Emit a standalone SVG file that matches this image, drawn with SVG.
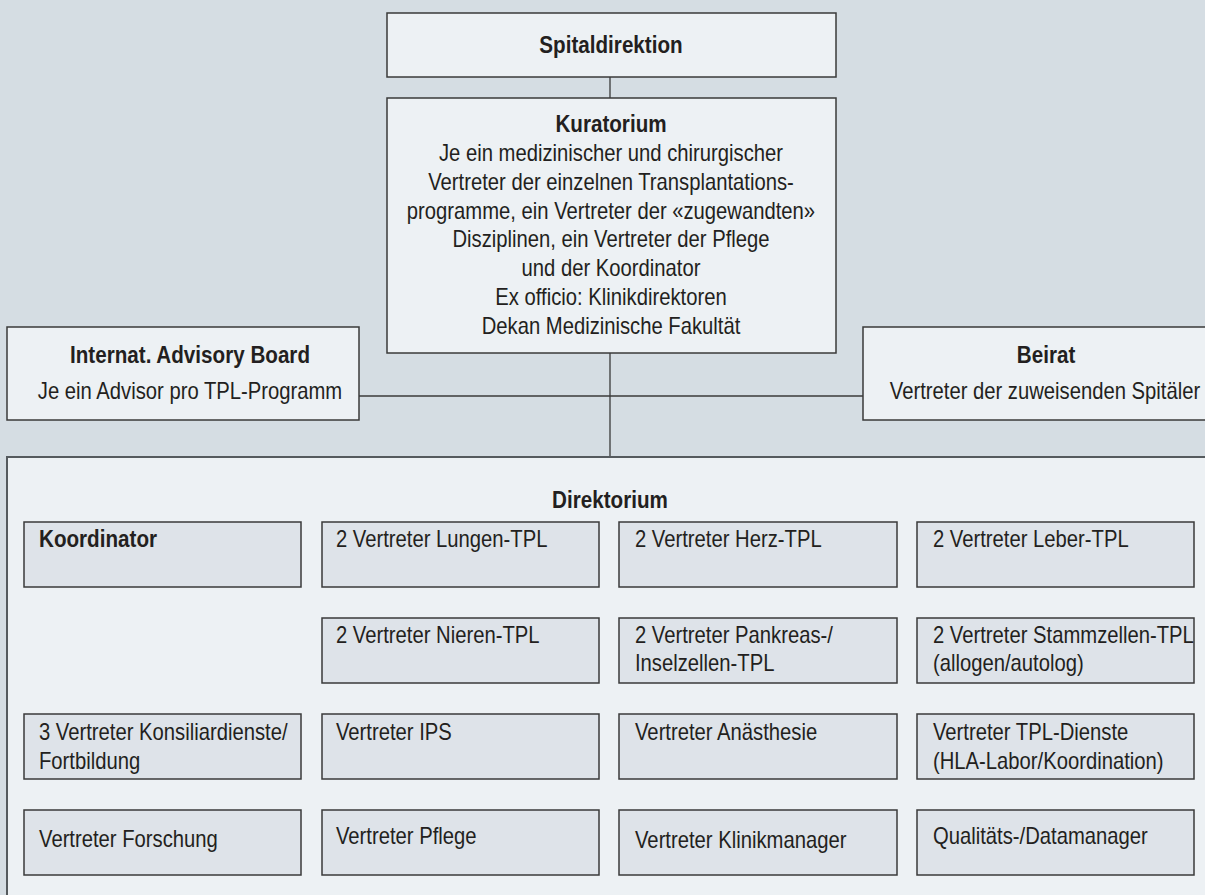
<svg xmlns="http://www.w3.org/2000/svg" width="1205" height="895" viewBox="0 0 1205 895">
<style>
  text { font-family: "Liberation Sans", Arial, sans-serif; fill: #231f20; font-size: 23px;
         transform-box: fill-box; transform-origin: left center; transform: scaleX(0.88); }
  .b { font-weight: bold; font-size: 24px; transform: scaleX(0.86); }
  .c { text-anchor: middle; transform-origin: center; }
  .top { fill: #edf1f4; stroke: #3a3a3a; stroke-width: 1.5; }
  .outer { fill: #edf1f4; stroke: #555a5e; stroke-width: 2; }
  .inner { fill: #dee3e9; stroke: #3a3a3a; stroke-width: 1.5; }
  .conn { stroke: #3a3a3a; stroke-width: 1.3; fill: none; }
</style>
<rect x="0" y="0" width="1205" height="895" fill="#d5dde3"/>
<g id="connectors">
  <line class="conn" x1="610" y1="77" x2="610" y2="98"/>
  <line class="conn" x1="610" y1="353" x2="610" y2="457"/>
  <line class="conn" x1="359" y1="396" x2="863" y2="396"/>
</g>
<g id="spitaldirektion">
  <rect class="top" x="387" y="13" width="449" height="64"/>
  <text class="b c" x="611" y="53">Spitaldirektion</text>
</g>
<g id="kuratorium">
  <rect class="top" x="387" y="98" width="449" height="255"/>
  <text class="b c" x="611" y="132">Kuratorium</text>
  <text class="c" x="611" y="161">Je ein medizinischer und chirurgischer</text>
  <text class="c" x="611" y="190">Vertreter der einzelnen Transplantations-</text>
  <text class="c" x="611" y="219">programme, ein Vertreter der «zugewandten»</text>
  <text class="c" x="611" y="247">Disziplinen, ein Vertreter der Pflege</text>
  <text class="c" x="611" y="276">und der Koordinator</text>
  <text class="c" x="611" y="305">Ex officio: Klinikdirektoren</text>
  <text class="c" x="611" y="334">Dekan Medizinische Fakultät</text>
</g>
<g id="advisory-board">
  <rect class="top" x="7" y="327" width="352" height="93"/>
  <text class="b c" x="190" y="363">Internat. Advisory Board</text>
  <text class="c" x="190" y="399">Je ein Advisor pro TPL-Programm</text>
</g>
<g id="beirat">
  <rect class="top" x="863" y="327" width="364" height="93"/>
  <text class="b c" x="1046" y="363">Beirat</text>
  <text class="c" x="1045" y="399">Vertreter der zuweisenden Spitäler</text>
</g>
<g id="direktorium">
  <rect class="outer" x="7" y="457" width="1230" height="460"/>
  <text class="b c" x="610" y="508">Direktorium</text>
</g>
<g id="koordinator">
  <rect class="inner" x="24" y="522" width="277" height="65"/>
  <text class="b" x="39" y="547">Koordinator</text>
</g>
<g id="lungen">
  <rect class="inner" x="322" y="522" width="277" height="65"/>
  <text x="336" y="547">2 Vertreter Lungen-TPL</text>
</g>
<g id="herz">
  <rect class="inner" x="619" y="522" width="278" height="65"/>
  <text x="635" y="547">2 Vertreter Herz-TPL</text>
</g>
<g id="leber">
  <rect class="inner" x="917" y="522" width="277" height="65"/>
  <text x="933" y="547">2 Vertreter Leber-TPL</text>
</g>
<g id="nieren">
  <rect class="inner" x="322" y="618" width="277" height="65"/>
  <text x="336" y="643">2 Vertreter Nieren-TPL</text>
</g>
<g id="pankreas">
  <rect class="inner" x="619" y="618" width="278" height="65"/>
  <text x="635" y="643">2 Vertreter Pankreas-/</text>
  <text x="635" y="671">Inselzellen-TPL</text>
</g>
<g id="stammzellen">
  <rect class="inner" x="917" y="618" width="277" height="65"/>
  <text x="933" y="643">2 Vertreter Stammzellen-TPL</text>
  <text x="933" y="671">(allogen/autolog)</text>
</g>
<g id="konsiliar">
  <rect class="inner" x="24" y="714" width="277" height="65"/>
  <text x="39" y="740">3 Vertreter Konsiliardienste/</text>
  <text x="39" y="769">Fortbildung</text>
</g>
<g id="ips">
  <rect class="inner" x="322" y="714" width="277" height="65"/>
  <text x="336" y="740">Vertreter IPS</text>
</g>
<g id="anaesthesie">
  <rect class="inner" x="619" y="714" width="278" height="65"/>
  <text x="635" y="740">Vertreter Anästhesie</text>
</g>
<g id="tpl-dienste">
  <rect class="inner" x="917" y="714" width="277" height="65"/>
  <text x="933" y="740">Vertreter TPL-Dienste</text>
  <text x="933" y="769">(HLA-Labor/Koordination)</text>
</g>
<g id="forschung">
  <rect class="inner" x="24" y="810" width="277" height="65"/>
  <text x="39" y="847">Vertreter Forschung</text>
</g>
<g id="pflege">
  <rect class="inner" x="322" y="810" width="277" height="65"/>
  <text x="336" y="844">Vertreter Pflege</text>
</g>
<g id="klinikmanager">
  <rect class="inner" x="619" y="810" width="278" height="65"/>
  <text x="635" y="848">Vertreter Klinikmanager</text>
</g>
<g id="datamanager">
  <rect class="inner" x="917" y="810" width="277" height="65"/>
  <text x="933" y="844">Qualitäts-/Datamanager</text>
</g>
</svg>
